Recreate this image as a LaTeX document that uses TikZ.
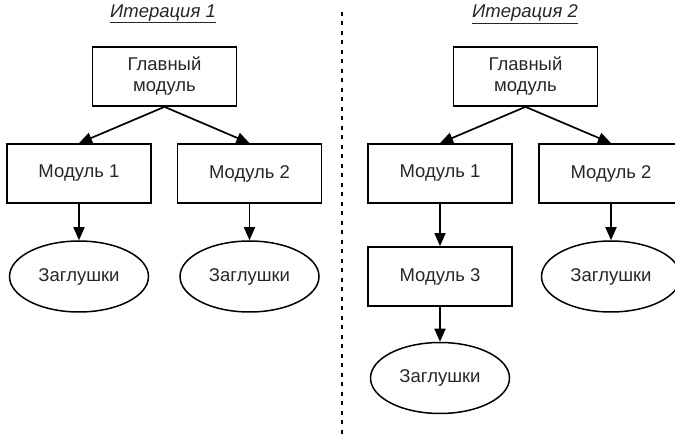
\documentclass[tikz,border=0pt]{standalone}
\usepackage{fontspec}
\setmainfont{Liberation Sans}
\usetikzlibrary{arrows.meta,shapes.geometric}
\definecolor{txt}{HTML}{262626}
\begin{document}
\begin{tikzpicture}[x=1pt,y=-1pt,
  box/.style={draw,line width=1.7pt,minimum width=144pt,minimum height=59pt,inner sep=0pt,align=center,font=\fontsize{18.5}{21}\selectfont,text=txt},
  stub/.style={draw,ellipse,line width=1.5pt,minimum width=139pt,minimum height=71pt,inner sep=0pt,font=\fontsize{18.5}{21}\selectfont,text=txt},
  conn/.style={line width=1.7pt,-{Triangle[length=13pt,width=11pt]}},
  ttl/.style={font=\fontsize{18.5}{21}\selectfont\itshape,text=txt,inner sep=0pt}]
\useasboundingbox (0,0) rectangle (675,435);
\clip (0,0) rectangle (675,435);
% titles
\node[ttl] (t1) at (163,14) {\underline{Итерация 1}};
\node[ttl] (t2) at (525,14) {\underline{Итерация 2}};
% separator
\coordinate (s1) at (342,12);
\coordinate (s2) at (342,435);
\draw[line width=1.5pt,dash pattern=on 4pt off 5.5pt] (s1) -- (s2);
% iteration 1
\node[box] (m0a) at (164.5,76.5) {Главный\\модуль};
\node[box] (m1a) at (79,173.5) {Модуль 1};
\node[box] (m2a) at (249.5,173.5) {Модуль 2};
\node[stub] (z1a) at (79,276.5) {Заглушки};
\node[stub] (z2a) at (249.5,276.5) {Заглушки};
\draw[conn] (m0a.south) -- (m1a.north);
\draw[conn] (m0a.south) -- (m2a.north);
\draw[conn] (m1a.south) -- (z1a.north);
\draw[conn] (m2a.south) -- (z2a.north);
% iteration 2
\node[box] (m0b) at (525.5,76.5) {Главный\\модуль};
\node[box] (m1b) at (440,173.5) {Модуль 1};
\node[box] (m2b) at (611,173.5) {Модуль 2};
\node[box] (m3b) at (440,276.5) {Модуль 3};
\node[stub] (z2b) at (611,276.5) {Заглушки};
\node[stub] (z3b) at (440,378) {Заглушки};
\draw[conn] (m0b.south) -- (m1b.north);
\draw[conn] (m0b.south) -- (m2b.north);
\draw[conn] (m1b.south) -- (m3b.north);
\draw[conn] (m2b.south) -- (z2b.north);
\draw[conn] (m3b.south) -- (z3b.north);
\end{tikzpicture}
\end{document}
